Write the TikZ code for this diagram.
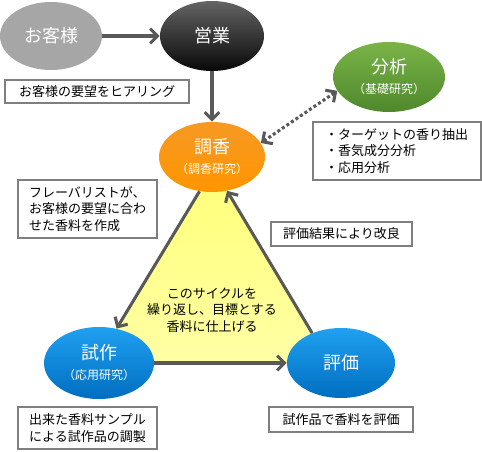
\documentclass[tikz,border=0pt]{standalone}
\usepackage{fontspec}
\setmainfont{Noto Sans CJK JP}
\usetikzlibrary{arrows.meta,shapes.geometric}
\definecolor{arrowgray}{RGB}{89,89,89}
\definecolor{boxgray}{RGB}{127,127,127}
\definecolor{guestgray}{RGB}{166,166,166}
\definecolor{salestop}{RGB}{100,100,100}
\definecolor{salesbot}{RGB}{8,8,8}
\definecolor{greentop}{RGB}{122,180,72}
\definecolor{greenbot}{RGB}{78,136,44}
\definecolor{orangetop}{RGB}{246,152,36}
\definecolor{orangebot}{RGB}{255,150,0}
\definecolor{bluetop}{RGB}{32,160,240}
\definecolor{bluebot}{RGB}{0,110,192}
\definecolor{yellowtop}{RGB}{255,255,120}
\definecolor{yellowbot}{RGB}{255,255,165}
\newcommand{\subname}[1]{{\fontsize{9}{10}\selectfont #1}}
\begin{document}
\begin{tikzpicture}[x=0.75pt,y=-0.75pt,
  oval/.style={ellipse, inner sep=0pt, text=white, align=center, font=\fontsize{13.5}{15}\selectfont},
  note/.style={draw=boxgray, line width=1pt, fill=white, inner sep=0pt, align=left, font=\fontsize{9.75}{12.5}\selectfont},
  flow/.style={draw=arrowgray, line width=2.3pt, -{Straight Barb[length=5.5pt,width=11pt]}}]
\useasboundingbox (0,0) rectangle (482,452);

% yellow cycle triangle
\shade[top color=yellowtop, bottom color=yellowbot] (213,168) -- (96,363) -- (331,363) -- cycle;

\node[oval, fill=guestgray, minimum width=76.5pt, minimum height=51pt] (okyaku) at (51,36) {お客様};
\node[oval, top color=salestop, bottom color=salesbot, minimum width=78pt, minimum height=52.5pt] (eigyou) at (212,36) {営業};
\node[oval, top color=greentop, bottom color=greenbot, minimum width=84pt, minimum height=52.5pt] (bunseki) at (389,77) {分析\\\subname{（基礎研究）}};
\node[oval, top color=orangetop, bottom color=orangebot, minimum width=79.5pt, minimum height=52.5pt] (chouko) at (212,157) {調香\\\subname{（調香研究）}};
\node[oval, top color=bluetop, bottom color=bluebot, minimum width=82.5pt, minimum height=54pt] (shisaku) at (99,363) {試作\\\subname{（応用研究）}};
\node[oval, top color=bluetop, bottom color=bluebot, minimum width=81pt, minimum height=52.5pt] (hyouka) at (341,363) {評価};

\node[note, minimum width=138pt, minimum height=17.25pt] (hearing) at (97,91.5) {お客様の要望をヒアリング};
\node[note, minimum width=126pt, minimum height=43.5pt, text width=108pt] (analysis) at (397,151) {・ターゲットの香り抽出\\・香気成分分析\\・応用分析};
\node[note, minimum width=104.25pt, minimum height=43.5pt] (flavorist) at (87.5,209) {フレーバリストが、\\お客様の要望に合わ\\せた香料を作成};
\node[note, minimum width=105.75pt, minimum height=18pt] (improve) at (341.5,234) {評価結果により改良};
\node[note, minimum width=104.25pt, minimum height=31.5pt] (sample) at (87.5,428) {出来た香料サンプル\\による試作品の調製};
\node[note, minimum width=108pt, minimum height=18.75pt] (evaluate) at (341,419.5) {試作品で香料を評価};
\node[align=center, font=\fontsize{9.75}{12.5}\selectfont] (cycle) at (212,310) {このサイクルを\\繰り返し、目標とする\\香料に仕上げる};

\draw[flow] (okyaku) -- (eigyou);
\draw[flow] (eigyou) -- (chouko);
\draw[flow] (chouko.250) -- (shisaku.63);
\draw[flow] (shisaku) -- (hyouka);
\draw[flow] (hyouka.134) -- (chouko.294);
\draw[flow, {Straight Barb[length=5.5pt,width=11pt]}-{Straight Barb[length=5.5pt,width=11pt]}, dash pattern=on 2.3pt off 1.8pt] (bunseki.195) -- (chouko.16);
\end{tikzpicture}
\end{document}
